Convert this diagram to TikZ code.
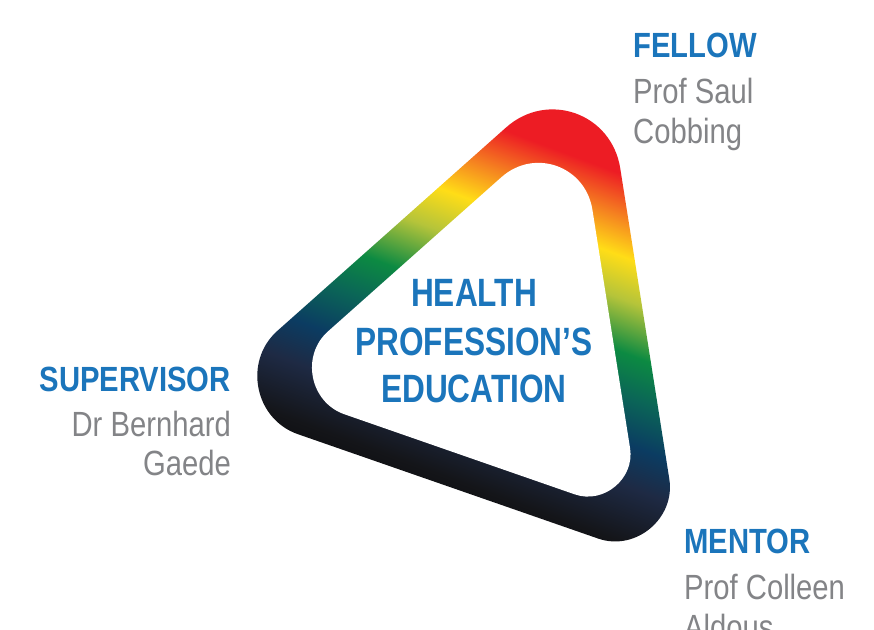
\documentclass[tikz,border=0pt]{standalone}
\usepackage{fontspec}
\newfontfamily\condfont{Liberation Sans}[FakeStretch=0.8]
\newfontfamily\labelfont{Liberation Sans}[FakeStretch=0.835]
\usetikzlibrary{calc}

\definecolor{ringred}{HTML}{ED1C24}
\definecolor{ringorange}{HTML}{F58220}
\definecolor{ringyellow}{HTML}{FFDD17}
\definecolor{ringlime}{HTML}{B5C43A}
\definecolor{ringgreen}{HTML}{0C8A42}
\definecolor{ringteal}{HTML}{0B6557}
\definecolor{ringnavy}{HTML}{0B3C62}
\definecolor{ringslate}{HTML}{1E2A44}
\definecolor{ringdark}{HTML}{141519}
\definecolor{ringblack}{HTML}{0A0A0C}
\definecolor{titleblue}{HTML}{1B75BB}
\definecolor{namegrey}{HTML}{838487}

% colour bands of the ring, from the top corner down to the bottom-left
\pgfdeclarehorizontalshading{ringshade}{100bp}{%
  color(0bp)=(ringred); color(31.25bp)=(ringred);
  color(35.8bp)=(ringorange); color(40bp)=(ringyellow);
  color(44.55bp)=(ringlime); color(50.2bp)=(ringgreen);
  color(54.8bp)=(ringteal); color(59.8bp)=(ringnavy);
  color(64.3bp)=(ringslate); color(70.45bp)=(ringdark);
  color(75bp)=(ringblack); color(100bp)=(ringblack)}

% rounded triangle: vertices #1 #2 #3, tangent lengths #4 #5 #6, control lengths #7 #8 #9
\newcommand\ringpath[9]{%
  ($(#1)!#4!(#2)$) -- ($(#2)!#5!(#1)$)
  .. controls ($(#2)!#8!(#1)$) and ($(#2)!#8!(#3)$) .. ($(#2)!#5!(#3)$)
  -- ($(#3)!#6!(#2)$)
  .. controls ($(#3)!#9!(#2)$) and ($(#3)!#9!(#1)$) .. ($(#3)!#6!(#1)$)
  -- ($(#1)!#4!(#3)$)
  .. controls ($(#1)!#7!(#3)$) and ($(#1)!#7!(#2)$) .. ($(#1)!#4!(#2)$)
  -- cycle}

\begin{document}
\begin{tikzpicture}[x=1pt,y=-1pt,
  roletitle/.style={font=\labelfont\bfseries\fontsize{35}{40}\selectfont,
    text=titleblue, inner sep=0pt},
  rolename/.style={font=\labelfont\fontsize{35}{40}\selectfont,
    text=namegrey, inner sep=0pt},
  centretext/.style={font=\condfont\bfseries\fontsize{39.5}{48}\selectfont,
    text=titleblue, inner sep=0pt, anchor=base}]

\fill[white] (0,0) rectangle (874,629);

% outer and inner outlines of the ring
\coordinate (Ao) at (600.5,43.5);
\coordinate (Bo) at (199.6,400.0);
\coordinate (Co) at (683.4,568.2);
\coordinate (Ai) at (576.7,110.3);
\coordinate (Bi) at (265.6,386.85);
\coordinate (Ci) at (641.0,517.4);

\begin{scope}
  \clip \ringpath{Ao}{Bo}{Co}{126.3pt}{104pt}{90.2pt}{70.7pt}{58.2pt}{50.5pt};
  \begin{scope}[transform canvas={rotate=249.5}]
    \shade[shading=ringshade] (-110,-1200) rectangle (330,1200);
  \end{scope}
\end{scope}
\fill[white] \ringpath{Ai}{Bi}{Ci}{100.7pt}{83.5pt}{70.2pt}{56.4pt}{46.8pt}{39.3pt};

% centre text
\node[centretext] (hpe1) at (474,306.7) {HEALTH};
\node[centretext] (hpe2) at (474,355) {PROFESSION’S};
\node[centretext] (hpe3) at (474,402.7) {EDUCATION};

% roles
\node[roletitle, anchor=base west] (fellow) at (633,57.3) {FELLOW};
\node[rolename, anchor=base west] (fellowa) at (633,103.3) {Prof Saul};
\node[rolename, anchor=base west] (fellowb) at (633,143.3) {Cobbing};

\node[roletitle, anchor=base east] (supervisor) at (231,391.7) {SUPERVISOR};
\node[rolename, anchor=base east] (supervisora) at (231,436) {Dr Bernhard};
\node[rolename, anchor=base east] (supervisorb) at (231,475) {Gaede};

\node[roletitle, anchor=base west] (mentor) at (684,553.3) {MENTOR};
\node[rolename, anchor=base west] (mentora) at (684,599.3) {Prof Colleen};
\node[rolename, anchor=base west] (mentorb) at (684,639.3) {Aldous};

\pgfresetboundingbox
\useasboundingbox (0,0) rectangle (874,629);
\end{tikzpicture}
\end{document}
